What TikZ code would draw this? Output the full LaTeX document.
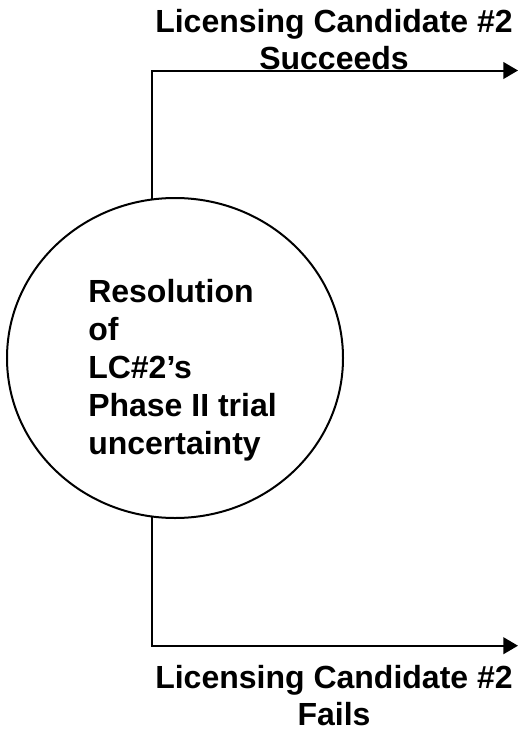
\documentclass[tikz,border=0pt]{standalone}
\usepackage{fontspec}
\setmainfont{Liberation Sans}
\usetikzlibrary{arrows.meta,shapes.geometric}
\tikzset{
  outline/.style={line width=1.5pt, draw=black},
  decision/.style={ellipse, outline, inner sep=0pt, outer sep=0pt, minimum width=252pt, minimum height=240pt},
  lbl/.style={inner sep=0pt, font=\bfseries\fontsize{24}{28}\selectfont, align=center},
  inlbl/.style={inner sep=0pt, font=\bfseries\fontsize{24}{28.5}\selectfont, align=left},
  branch/.style={line width=1.5pt, -{Triangle[length=11pt,width=12.5pt]}}
}
\begin{document}
\begin{tikzpicture}[x=0.75pt,y=-0.75pt]
\useasboundingbox (0,0) rectangle (519,732);
\node[decision] (circ) at (175,358) {};
\node[inlbl, anchor=north west] (ctext) at (88,279.5) {Resolution\\of\\LC\#2’s\\Phase II trial\\uncertainty};
\coordinate (topcorner) at (152,70.5);
\coordinate (topend) at (518,70.5);
\coordinate (botcorner) at (152,645.7);
\coordinate (botend) at (518,645.7);
\draw[branch] (topcorner |- circ.98.26) -- (topcorner) -- (topend);
\draw[branch] (botcorner |- circ.261.74) -- (botcorner) -- (botend);
\node[lbl, anchor=north] (succ) at (334,8.7) {Licensing Candidate \#2\\Succeeds};
\node[lbl, anchor=north] (fail) at (334,665) {Licensing Candidate \#2\\Fails};
\end{tikzpicture}
\end{document}
